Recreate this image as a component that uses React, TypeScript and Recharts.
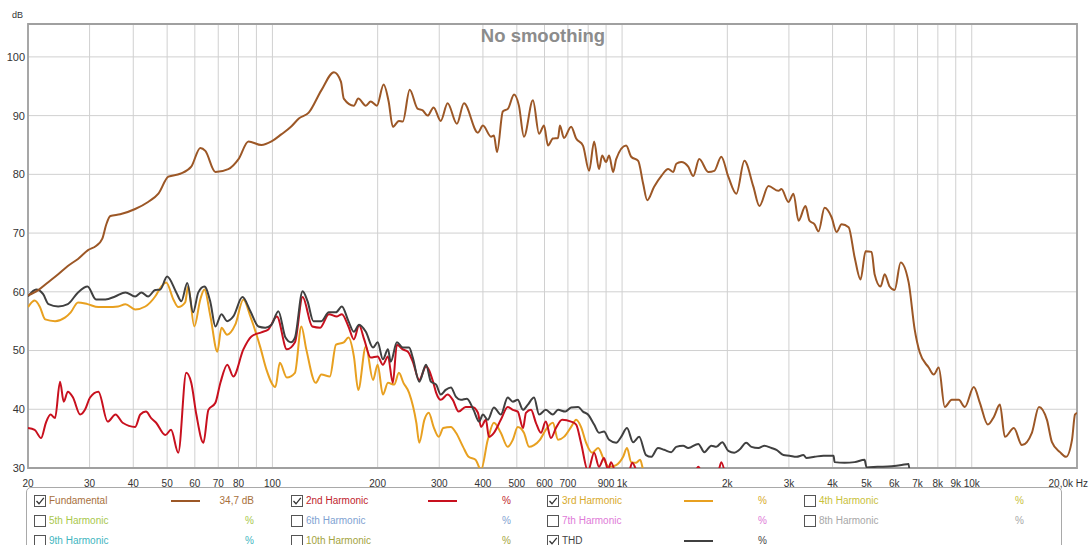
import React from 'react';
import { LineChart, Line, XAxis, YAxis, CartesianGrid, ReferenceArea } from 'recharts';

// ---- axis ticks ----
const xTicks = [20, 30, 40, 50, 60, 70, 80, 90, 100, 200, 300, 400, 500, 600, 700, 800, 900, 1000, 2000, 3000, 4000, 5000, 6000, 7000, 8000, 9000, 10000, 20000];
const xTickLabels = ['20', '30', '40', '50', '60', '70', '80', '', '100', '200', '300', '400', '500', '600', '700', '', '900', '1k', '2k', '3k', '4k', '5k', '6k', '7k', '8k', '9k', '10k', '20,0k Hz'];
const yTicks = [30, 40, 50, 60, 70, 80, 90, 100];
const yDomain = [30, 105.6];

// ---- Fundamental (dB) ----
const fundFreq = [20, 21.4, 22.8, 24.4, 26.0, 27.8, 29.7, 31.3, 32.6, 33.5, 34.4, 36.7, 40.5, 44.1, 47.2, 50.4, 54.5, 58.6, 62.2, 64.3, 68.7, 74.8, 80, 85.4, 93, 99.4, 106, 113, 119, 127, 138, 150, 157, 160, 171, 176, 185, 191, 199, 208, 215, 221, 230, 236, 247, 260, 269, 278, 289, 303, 317, 337, 353, 387, 400, 422, 430, 439, 456, 472, 491, 507, 524, 556, 579, 598, 614, 634, 656, 664, 682, 715, 739, 773, 805, 832, 859, 877, 900, 918, 943, 962, 1027, 1062, 1112, 1149, 1180, 1235, 1294, 1355, 1401, 1429, 1476, 1546, 1598, 1662, 1764, 1836, 1922, 2013, 2122, 2238, 2374, 2470, 2622, 2800, 2856, 2991, 3092, 3196, 3346, 3436, 3552, 3646, 3794, 3973, 4107, 4245, 4445, 4624, 4809, 4971, 5171, 5275, 5487, 5636, 5824, 6019, 6261, 6600, 6867, 7098, 7532, 7786, 8046, 8372, 8768, 9182, 9554, 10138, 10550, 11118, 11568, 12036, 12440, 13198, 13916, 14860, 15564, 16408, 16960, 17880, 18600, 19352, 19738, 20000];
const fundDb = [59.4, 60.3, 61.6, 63.0, 64.4, 65.6, 67.1, 67.8, 69.0, 71.5, 72.9, 73.2, 74.1, 75.3, 76.7, 79.6, 80.1, 81.3, 84.5, 84.0, 80.4, 80.9, 82.6, 85.6, 85.0, 85.6, 86.8, 88.1, 89.5, 90.5, 94.3, 97.4, 95.8, 92.9, 91.7, 92.9, 91.7, 92.4, 91.7, 95.3, 92.4, 88.1, 89.1, 89.0, 94.4, 91.2, 90.9, 90.0, 91.4, 89.1, 92.1, 88.6, 92.1, 87.1, 88.3, 86.4, 86.6, 83.8, 90.7, 91.2, 93.6, 91.7, 86.4, 92.6, 86.9, 88.3, 84.9, 86.1, 86.2, 88.3, 86.2, 88.1, 86.1, 84.9, 80.6, 85.6, 80.9, 83.2, 82.1, 83.2, 80.4, 82.6, 84.9, 83.0, 82.3, 78.4, 75.6, 77.9, 79.7, 80.9, 80.4, 81.8, 82.1, 81.3, 79.7, 82.6, 80.4, 80.6, 83.0, 79.6, 76.7, 82.3, 77.9, 74.6, 78.0, 77.2, 77.5, 75.3, 76.7, 72.1, 74.6, 72.1, 71.5, 70.3, 74.3, 72.7, 70.2, 71.5, 71.0, 65.9, 62.1, 66.9, 66.8, 63.0, 60.9, 63.0, 60.9, 60.3, 65.0, 61.6, 53.6, 49.7, 47.1, 45.9, 47.1, 40.4, 41.6, 41.6, 40.4, 43.8, 41.1, 37.4, 38.7, 40.8, 35.3, 36.8, 33.9, 36.0, 40.4, 38.2, 34.4, 32.7, 31.9, 34.8, 39.1, 39.4];

// ---- THD ----
const thdFreq = [20, 21.1, 22.1, 22.9, 24.4, 26.0, 27.8, 29.6, 31.3, 33.3, 35.5, 38.0, 40.5, 42.2, 44.1, 46.2, 47.8, 50.0, 53.1, 54.9, 57.1, 59.3, 61.4, 63.9, 66.5, 68.7, 71.5, 74.2, 77.3, 82.1, 86.5, 91.2, 95.4, 99.4, 104, 109, 113, 116, 122, 126, 131, 138, 145, 152, 158, 165, 171, 177, 185, 194, 200, 207, 214, 218, 227, 236, 246, 252, 263, 275, 284, 294, 303, 313, 324, 335, 346, 360, 376, 390, 400, 413, 430, 450, 471, 487, 503, 521, 538, 560, 579, 605, 634, 656, 688, 715, 749, 773, 799, 832, 859, 888, 918, 962, 994, 1033, 1075, 1119, 1171, 1211, 1267, 1319, 1382, 1428, 1495, 1546, 1652, 1719, 1800, 1860, 1934, 2013, 2094, 2165, 2265, 2344, 2453, 2553, 2675, 2764, 2894, 3011, 3152, 3302, 3367, 3552, 3768, 4026, 4053, 4330, 4624, 4938, 5002, 5376, 5902, 6304, 6600, 6645];
const thdDb = [59.2, 60.4, 59.6, 57.9, 57.5, 57.9, 59.9, 60.9, 58.7, 58.7, 59.2, 59.9, 59.2, 59.9, 59.2, 60.3, 60.4, 62.6, 59.9, 58.4, 61.5, 56.5, 59.9, 60.9, 58.2, 54.1, 56.2, 55.0, 55.8, 59.1, 56.7, 54.1, 53.9, 54.4, 56.7, 52.2, 51.4, 52.2, 60.1, 58.4, 55.0, 55.0, 56.5, 56.5, 57.5, 55.0, 53.2, 54.4, 53.2, 50.5, 51.4, 48.5, 50.2, 48.1, 51.4, 50.5, 50.5, 48.8, 44.7, 47.6, 44.7, 44.2, 42.5, 43.3, 43.7, 42.1, 41.6, 41.8, 39.9, 37.9, 39.1, 38.2, 40.3, 39.1, 42.0, 41.3, 41.6, 39.9, 40.8, 42.0, 39.1, 39.9, 39.1, 39.9, 39.6, 40.3, 40.4, 39.6, 39.1, 37.4, 36.0, 36.2, 34.8, 34.3, 35.3, 36.8, 34.4, 35.3, 32.2, 31.9, 33.4, 33.1, 32.7, 33.6, 33.8, 33.4, 34.1, 32.7, 33.8, 33.6, 34.4, 32.9, 32.6, 33.1, 34.3, 33.6, 33.4, 33.8, 33.4, 33.1, 32.2, 32.1, 31.9, 32.2, 31.7, 31.9, 32.1, 32.1, 31.0, 30.9, 31.0, 31.4, 30.1, 30.2, 30.3, 30.5, 30.7, 29.0];

// ---- 2nd harmonic ----
const h2Freq = [20, 20.9, 21.8, 22.5, 23.2, 23.9, 24.7, 25.3, 26.0, 26.9, 28.2, 29.1, 30.1, 31.8, 33.8, 35.6, 37.3, 40.5, 41.9, 43.5, 45.0, 46.5, 49.4, 51.3, 53.8, 56.7, 58.6, 60.6, 63.5, 65.6, 68.7, 71.0, 74.3, 77.3, 82.6, 87.1, 93.0, 97.4, 103, 110, 116, 122, 130, 137, 145, 153, 158, 165, 171, 177, 183, 191, 200, 207, 214, 221, 227, 236, 244, 252, 263, 275, 288, 294, 303, 317, 328, 341, 357, 373, 387, 395, 408, 416, 430, 450, 471, 487, 503, 521, 531, 549, 567, 586, 605, 626, 647, 674, 715, 739, 763, 799, 832, 859, 888, 912, 930, 968, 1040, 1069, 1119, 1598, 1652, 1708, 1872, 1922, 1973];
const h2Db = [36.8, 36.5, 35.1, 37.7, 39.1, 38.5, 44.7, 41.3, 43.0, 42.0, 39.1, 39.9, 42.0, 43.0, 37.9, 39.1, 37.7, 37.0, 39.1, 39.6, 38.5, 37.7, 35.6, 36.5, 32.6, 46.2, 44.5, 39.1, 34.3, 39.9, 41.1, 44.5, 47.6, 45.6, 50.2, 52.4, 53.1, 53.6, 55.8, 50.2, 51.4, 59.1, 54.1, 53.9, 56.2, 55.8, 56.2, 54.1, 51.9, 54.3, 51.9, 48.8, 49.0, 47.6, 49.0, 44.5, 51.0, 50.2, 49.8, 48.1, 45.0, 47.3, 44.7, 42.8, 41.6, 42.5, 41.6, 39.6, 40.4, 40.4, 39.4, 37.0, 38.2, 35.3, 36.0, 38.2, 40.4, 39.9, 39.6, 36.8, 39.4, 39.9, 37.7, 36.0, 37.9, 35.1, 36.8, 38.2, 37.9, 37.4, 34.3, 29.5, 32.6, 30.2, 31.7, 29.7, 31.0, 28.5, 28.8, 30.9, 28.8, 28.8, 30.2, 28.8, 28.8, 31.0, 28.8];

// ---- 3rd harmonic ----
const h3Freq = [20, 20.9, 21.6, 22.4, 23.9, 25.5, 26.5, 27.8, 29.6, 31.8, 33.8, 36.2, 38.0, 40.5, 43.3, 46.2, 48.1, 49.7, 52.1, 53.8, 56.3, 57.4, 59.8, 62.2, 63.9, 66.5, 69.6, 71.5, 74.2, 78.3, 82.6, 86.5, 92.4, 96.1, 102, 105, 110, 116, 121, 125, 133, 138, 146, 152, 160, 165, 171, 176, 185, 194, 200, 207, 214, 223, 230, 237, 246, 258, 263, 272, 280, 289, 299, 308, 324, 335, 351, 364, 381, 395, 413, 430, 450, 471, 487, 503, 524, 542, 560, 582, 605, 634, 656, 682, 715, 739, 763, 789, 821, 854, 888, 918, 962, 1007, 1033, 1062, 1097, 1126, 1149, 1180];
const h3Db = [57.4, 58.5, 57.5, 55.3, 55.0, 55.6, 56.5, 58.2, 57.9, 57.4, 57.4, 57.5, 57.9, 57.0, 57.5, 59.2, 60.9, 61.6, 58.7, 57.4, 58.2, 60.9, 54.1, 58.7, 60.4, 55.8, 49.8, 53.9, 52.7, 54.4, 58.7, 55.8, 50.5, 46.8, 43.8, 47.9, 45.4, 46.2, 54.1, 50.2, 44.5, 45.9, 45.6, 51.0, 51.4, 52.2, 49.0, 43.3, 50.7, 45.0, 47.6, 42.5, 44.5, 44.2, 46.2, 44.5, 42.8, 37.7, 34.3, 38.2, 39.4, 37.0, 35.3, 36.8, 37.0, 36.0, 33.6, 31.9, 31.4, 29.7, 34.8, 37.7, 36.0, 33.6, 34.8, 37.0, 36.0, 33.6, 33.9, 34.8, 36.5, 37.7, 34.8, 35.3, 37.0, 38.2, 37.0, 34.3, 32.6, 33.4, 31.4, 30.2, 30.5, 31.9, 33.4, 31.0, 30.9, 31.4, 29.7, 28.0];

// ---- legend ----
const legendRows = [
  [
    { name: 'Fundamental', color: '#a8703c', checked: true, line: '#9c5726', value: '34,7 dB' },
    { name: '2nd Harmonic', color: '#c0242c', checked: true, line: '#c8101e', value: '%' },
    { name: '3rd Harmonic', color: '#d8aa2a', checked: true, line: '#e8a020', value: '%' },
    { name: '4th Harmonic', color: '#c9c13a', checked: false, line: null, value: '%' },
  ],
  [
    { name: '5th Harmonic', color: '#a9c84c', checked: false, line: null, value: '%' },
    { name: '6th Harmonic', color: '#7fa2d2', checked: false, line: null, value: '%' },
    { name: '7th Harmonic', color: '#e07ad8', checked: false, line: null, value: '%' },
    { name: '8th Harmonic', color: '#a8a8a8', checked: false, line: null, value: '%' },
  ],
  [
    { name: '9th Harmonic', color: '#3fb6bf', checked: false, line: null, value: '%' },
    { name: '10th Harmonic', color: '#a4a440', checked: false, line: null, value: '%' },
    { name: 'THD', color: '#444444', checked: true, line: '#404040', value: '%' },
  ],
];

const zip = (f: number[], v: number[]) => f.map((x, i) => ({ f: x, v: v[i] }));
const fundData = zip(fundFreq, fundDb);
const thdData = zip(thdFreq, thdDb);
const h2Data = zip(h2Freq, h2Db);
const h3Data = zip(h3Freq, h3Db);

const FONT = '"Liberation Sans", Arial, sans-serif';

const XTick = (props: any) => {
  const { x, y, payload, index } = props;
  const label = xTickLabels[xTicks.indexOf(payload.value)] ?? '';
  const last = index === xTicks.length - 1 || payload.value === 20000;
  return (
    <text
      x={last ? 1088 : x}
      y={y + 4}
      dy="0.71em"
      textAnchor={last ? 'end' : 'middle'}
      fontSize={10}
      fill="#333"
      fontFamily={FONT}
    >
      {label}
    </text>
  );
};

const CheckBox = ({ checked }: { checked: boolean }) => (
  <svg width={12} height={12} style={{ position: 'absolute', left: 0, top: -6 }}>
    <rect x={0.5} y={0.5} width={11} height={11} fill="#fff" stroke="#555" strokeWidth={1} />
    {checked && <path d="M2.5 6 L5 8.8 L9.8 2.8" fill="none" stroke="#333" strokeWidth={1.3} />}
  </svg>
);

const colX = [7, 264, 520, 777];
const rowY = [13, 33, 53];

const Legend = () => (
  <div
    style={{
      position: 'absolute', left: 26, top: 487, width: 1036, height: 80,
      border: '1px solid #a9a9a9', borderRadius: 5, boxSizing: 'border-box',
      fontFamily: FONT, fontSize: 10,
    }}
  >
    {legendRows.map((row, r) =>
      row.map((it, c) => (
        <div key={`${r}-${c}`} style={{ position: 'absolute', left: colX[c], top: rowY[r], width: 230, height: 0 }}>
          <CheckBox checked={it.checked} />
          <span style={{ position: 'absolute', left: 15, top: -6, color: it.color, whiteSpace: 'nowrap', lineHeight: '12px' }}>{it.name}</span>
          {it.line && (
            <div style={{ position: 'absolute', left: 137, top: -1, width: 29, height: 2, background: it.line }} />
          )}
          <span style={{ position: 'absolute', right: 10, top: -6, color: it.color, whiteSpace: 'nowrap', lineHeight: '12px' }}>{it.value}</span>
        </div>
      ))
    )}
  </div>
);

export default function App() {
  return (
    <div style={{ position: 'absolute', left: 0, top: 0, width: 1089, height: 545, background: '#fff', overflow: 'hidden' }}>
      <LineChart width={1089} height={545} margin={{ top: 24, right: 12, bottom: 0, left: 0 }}>
        <CartesianGrid stroke="#d0d0d0" strokeWidth={1} />
        <XAxis
          type="number"
          dataKey="f"
          scale="log"
          domain={[20, 20000]}
          ticks={xTicks}
          interval={0}
          allowDataOverflow
          height={77}
          axisLine={false}
          tickLine={false}
          tick={<XTick />}
        />
        <YAxis
          type="number"
          domain={yDomain}
          ticks={yTicks}
          allowDataOverflow
          width={28}
          axisLine={false}
          tickLine={false}
          tickSize={0}
          tickMargin={3}
          tick={{ fontSize: 11, fill: '#333', fontFamily: FONT }}
        />
        <ReferenceArea x1={20} x2={20000} y1={30} y2={105.6} fill="none" stroke="#a0a0a0" strokeWidth={1.8} ifOverflow="visible" />
        <Line data={h3Data} dataKey="v" type="monotone" stroke="#e8a020" strokeWidth={2} dot={false} isAnimationActive={false} />
        <Line data={h2Data} dataKey="v" type="monotone" stroke="#c8101e" strokeWidth={2} dot={false} isAnimationActive={false} />
        <Line data={thdData} dataKey="v" type="monotone" stroke="#404040" strokeWidth={2} dot={false} isAnimationActive={false} />
        <Line data={fundData} dataKey="v" type="monotone" stroke="#9c5726" strokeWidth={2} dot={false} isAnimationActive={false} />
      </LineChart>
      <div style={{ position: 'absolute', left: 12, top: 10, fontFamily: FONT, fontSize: 9, color: '#333' }}>dB</div>
      <div style={{ position: 'absolute', left: 0, width: 1086, top: 27, textAlign: 'center', fontFamily: FONT, fontWeight: 'bold', fontSize: 18.5, color: '#8c8c8c', lineHeight: 1 }}>No smoothing</div>
      <Legend />
    </div>
  );
}
